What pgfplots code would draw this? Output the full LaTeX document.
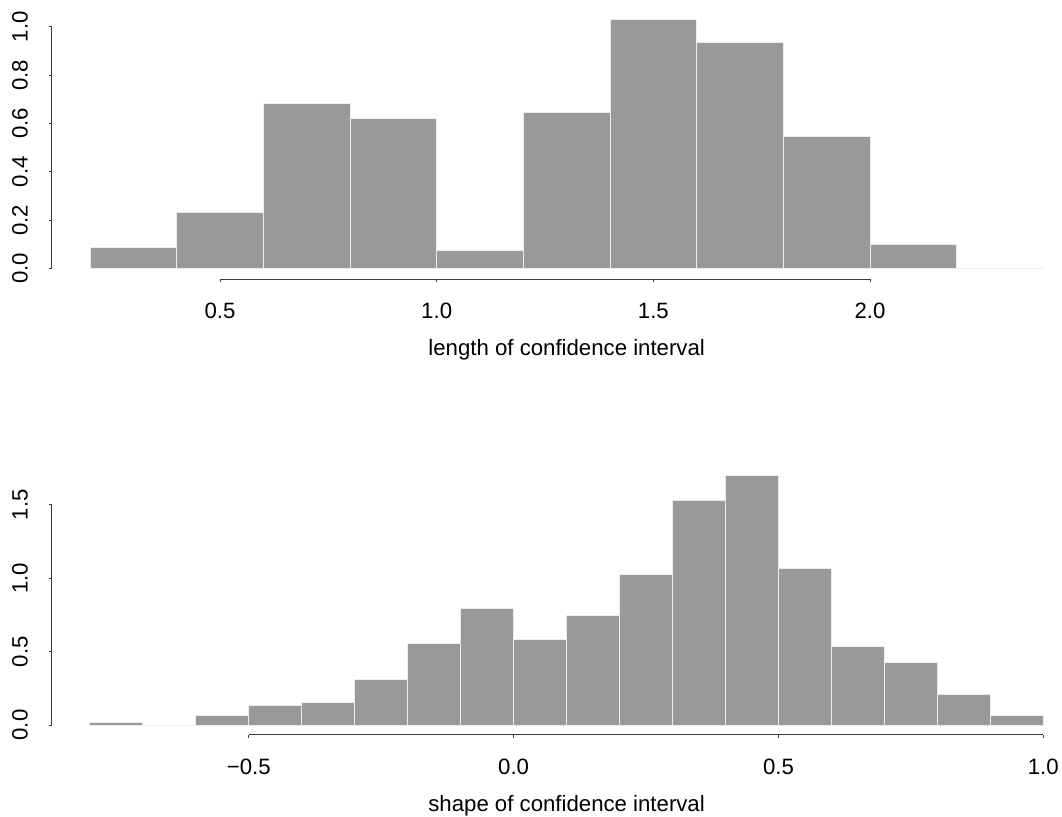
\documentclass[border=0pt]{standalone}
\usepackage{pgfplots}
\pgfplotsset{compat=1.18}
\usepackage{fontspec}
\setmainfont{Liberation Sans}
\definecolor{barfill}{RGB}{153,153,153}
\definecolor{barline}{RGB}{236,236,236}
\definecolor{axcol}{RGB}{60,60,60}
\begin{document}
\begin{tikzpicture}
\pgfplotsset{
  rstyle/.style={
    scale only axis,
    width=514.8pt, height=134.9pt,
    anchor=south west,
    axis x line*=bottom, axis y line*=left,
    axis line style={draw=none},
    tick align=outside,
    major tick length=1.5pt,
    tick style={axcol, line width=0.5pt},
    minor tick num=0,
    ticklabel style={font=\fontsize{11.1}{13}\selectfont, /pgf/number format/assume math mode=true},
    yticklabel style={rotate=90, anchor=south},
    xticklabel shift=6.8pt,
    yticklabel shift=7pt,
    xlabel style={font=\fontsize{11.1}{13}\selectfont, at={(axis description cs:0.5,0)}, anchor=base, yshift=-38.3pt},
    clip=false,
  },
  histbar/.style={ybar interval, fill=barfill, draw=barline, line width=0.5pt},
}
% top histogram
\begin{axis}[rstyle, at={(25.94pt,268.85pt)},
  xmin=0.112, xmax=2.488, ymin=-0.045, ymax=1.072,
  xtick={0.5,1.0,1.5,2.0}, xticklabels={0.5,1.0,1.5,2.0},
  ytick={0,0.2,0.4,0.6,0.8,1.0}, yticklabels={0.0,0.2,0.4,0.6,0.8,1.0},
  xlabel={length of confidence interval}]
\addplot[histbar] coordinates {
 (0.2,0.085) (0.4,0.230) (0.6,0.681) (0.8,0.621) (1.0,0.076) (1.2,0.646)
 (1.4,1.031) (1.6,0.935) (1.8,0.546) (2.0,0.100) (2.2,0) (2.4,0)};
\draw[axcol, line width=0.5pt] (axis cs:0.5,-0.045) -- (axis cs:2.0,-0.045);
\draw[axcol, line width=0.5pt] (axis cs:0.112,0) -- (axis cs:0.112,1.0);
\end{axis}
% bottom histogram
\begin{axis}[rstyle, at={(25.9pt,41pt)},
  xmin=-0.872, xmax=1.072, ymin=-0.068, ymax=1.770,
  xtick={-0.5,0,0.5,1.0}, xticklabels={−0.5,0.0,0.5,1.0},
  ytick={0,0.5,1.0,1.5}, yticklabels={0.0,0.5,1.0,1.5},
  xlabel={shape of confidence interval}]
\addplot[histbar] coordinates {
 (-0.8,0.014) (-0.7,0) (-0.6,0.066) (-0.5,0.136) (-0.4,0.155) (-0.3,0.307)
 (-0.2,0.557) (-0.1,0.793) (0.0,0.584) (0.1,0.743) (0.2,1.022) (0.3,1.530)
 (0.4,1.702) (0.5,1.063) (0.6,0.534) (0.7,0.425) (0.8,0.207) (0.9,0.066) (1.0,0)};
\draw[axcol, line width=0.5pt] (axis cs:-0.5,-0.068) -- (axis cs:1.0,-0.068);
\draw[axcol, line width=0.5pt] (axis cs:-0.872,0) -- (axis cs:-0.872,1.5);
\end{axis}
\pgfresetboundingbox
\path[use as bounding box] (0pt,0pt) rectangle (531pt,408.5pt);
\end{tikzpicture}
\end{document}
